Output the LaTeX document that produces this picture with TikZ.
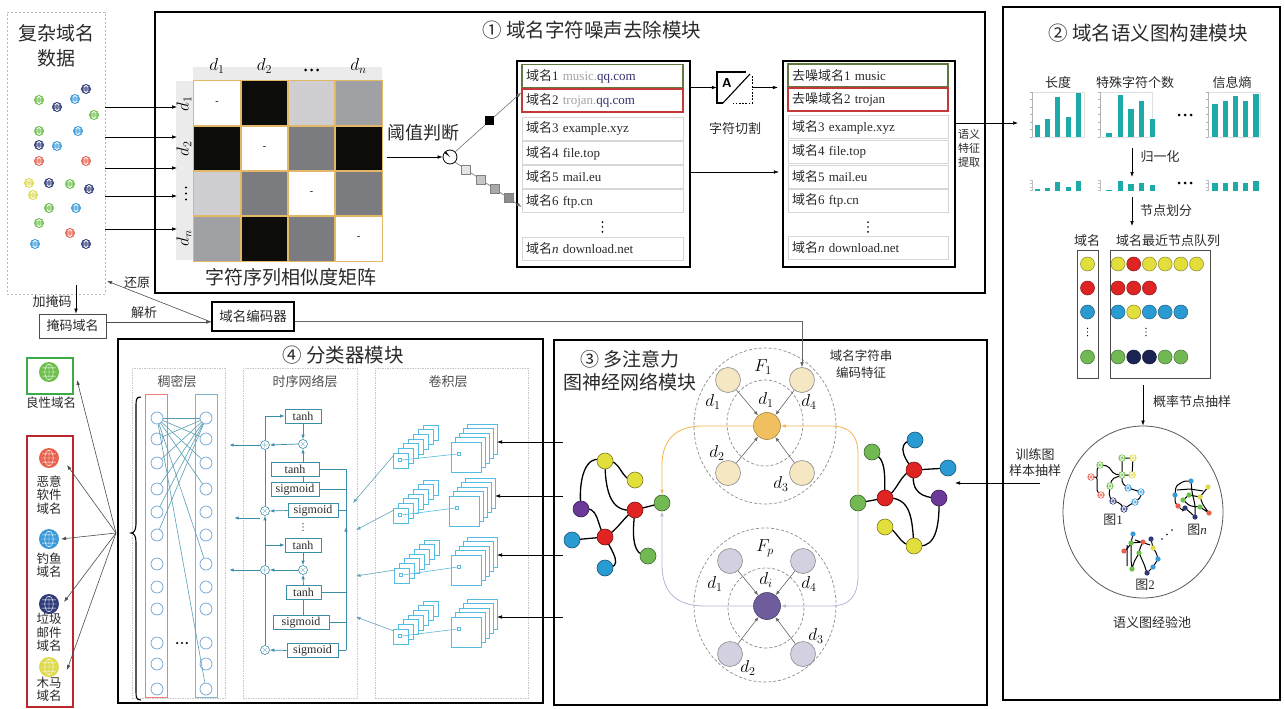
\documentclass[tikz,border=0pt]{standalone}
\usepackage{fontspec}
\setmainfont{Liberation Serif}
\newfontfamily\cjk{Noto Sans CJK SC}
\usetikzlibrary{arrows.meta,shapes.geometric}
\newcommand\zh[1]{{\cjk #1}}

\definecolor{txt}{HTML}{2A2A2A}
\definecolor{soft}{HTML}{505050}
\definecolor{gGreen}{HTML}{6CBF4A}
\definecolor{gNavy}{HTML}{2F3A7A}
\definecolor{gBlue}{HTML}{3A9AD9}
\definecolor{gRed}{HTML}{E8604C}
\definecolor{gYellow}{HTML}{DEDA4C}
\definecolor{nYellow}{HTML}{E2DE3C}
\definecolor{nRed}{HTML}{E02424}
\definecolor{nBlue}{HTML}{2A9AD2}
\definecolor{nGreen}{HTML}{72B954}
\definecolor{nNavy}{HTML}{1C2454}
\definecolor{nPurple}{HTML}{6B3A98}
\definecolor{barT}{HTML}{1FAAAA}
\definecolor{cellGold}{HTML}{E2B868}
\definecolor{gLight}{HTML}{CFCFD1}
\definecolor{gMid}{HTML}{A0A1A4}
\definecolor{gDark}{HTML}{7B7C80}
\definecolor{cBlack}{HTML}{0C0C0A}
\definecolor{band}{HTML}{EBEBEB}
\definecolor{rowline}{HTML}{D6D6D6}
\definecolor{okGreen}{HTML}{5E7A3E}
\definecolor{badRed}{HTML}{C4383A}
\definecolor{urlGray}{HTML}{A3A3A3}
\definecolor{urlNavy}{HTML}{33336E}
\definecolor{lstm}{HTML}{3B8DA8}
\definecolor{dense}{HTML}{6FA3D6}
\definecolor{denseRed}{HTML}{F07C7C}
\definecolor{denseBlue}{HTML}{7FB4CC}
\definecolor{conv}{HTML}{55BDE3}
\definecolor{panel}{HTML}{C8C8C8}
\definecolor{attOrange}{HTML}{F0C060}
\definecolor{attBeige}{HTML}{F6E7C3}
\definecolor{attPurple}{HTML}{6E5C9C}
\definecolor{attLav}{HTML}{D3D0E2}
\definecolor{lineOrange}{HTML}{F2B450}
\definecolor{lineLav}{HTML}{B9B3DA}
\definecolor{goodGreen}{HTML}{3DAA4A}
\definecolor{badBox}{HTML}{B8282C}

\tikzset{
  arr/.style={-{Latex[length=5pt,width=3.6pt]}, line width=0.6pt},
  garr/.style={arr, draw=black!60},
  tarr/.style={-{Latex[length=4.5pt,width=3.4pt]}, line width=0.7pt, draw=lstm},
  carr/.style={-{Latex[length=4.5pt,width=3.4pt]}, line width=0.6pt, draw=lstm!80},
  modbox/.style={draw=black, line width=2.2pt, inner sep=0pt},
  listbox/.style={draw=black, line width=2.2pt, inner sep=0pt, minimum height=206pt},
  listrow/.style={draw=rowline, line width=0.7pt, minimum width=161pt, minimum height=23pt,
    inner sep=0pt, text width=153pt, align=left, font=\fontsize{13}{13}\selectfont, text=txt},
  mcell/.style={draw=cellGold, line width=0.6pt, minimum width=47pt, minimum height=45pt, inner sep=0pt},
  qd/.style={circle, draw=#1!60!black, fill=#1, line width=0.5pt, minimum size=14pt, inner sep=0pt},
  gnode/.style={circle, draw=#1!55!black, fill=#1, line width=0.6pt, minimum size=16pt, inner sep=0pt},
  attn/.style={circle, draw=black!45, fill=#1, line width=0.6pt, minimum size=25pt, inner sep=0pt},
  attc/.style={circle, draw=#1!70!black, fill=#1, line width=0.6pt, minimum size=27pt, inner sep=0pt},
  aarr/.style={-{Latex[length=4.5pt,width=3.4pt]}, line width=0.6pt, draw=black!60},
  dashring/.style={draw=black!45, dash pattern=on 3pt off 2pt, line width=0.7pt},
  panelbox/.style={draw=panel, dash pattern=on 1.5pt off 1pt, line width=0.6pt, inner sep=0pt},
  lbox/.style={draw=lstm, line width=0.7pt, fill=white, inner sep=0pt, minimum height=14pt,
    font=\fontsize{12}{12}\selectfont, text=txt},
  opnode/.style={circle, draw=lstm, line width=0.6pt, fill=white, minimum size=9pt, inner sep=0pt,
    font=\fontsize{8}{8}\selectfont, text=lstm},
  dn/.style={circle, draw=dense, line width=0.7pt, minimum size=12pt, inner sep=0pt},
  smallbox/.style={draw=black!70, line width=0.8pt, inner sep=0pt},
  pics/globe/.style 2 args={code={
    \fill[#1] (0,0) circle (#2);
    \draw[white, line width=0.45pt]
      (0,0) ellipse ({0.42*#2} and {0.78*#2})
      (0,-0.8*#2) -- (0,0.8*#2)
      (-0.8*#2,0) -- (0.8*#2,0)
      (-0.7*#2,-0.42*#2) -- (0.7*#2,-0.42*#2)
      (-0.7*#2,0.42*#2) -- (0.7*#2,0.42*#2);
  }},
  pics/cdot3/.style={code={\fill (-6,0) circle (1.5) (0,0) circle (1.5) (6,0) circle (1.5);}},
  pics/vdot3/.style={code={\fill (0,-6) circle (1.2) (0,0) circle (1.2) (0,6) circle (1.2);}}
}

\begin{document}
\begin{tikzpicture}[x=1pt,y=-1pt]
\useasboundingbox (0,0) rectangle (1285,709);
\fill[white] (0,0) rectangle (1285,709);

% ================= module frames =================
\node[modbox, minimum width=830pt, minimum height=281pt] (M1) at (570,152.5) {};
\node[modbox, minimum width=277pt, minimum height=693pt] (M2) at (1141.5,353.5) {};
\node[modbox, minimum width=433pt, minimum height=365pt] (M3) at (770.5,522.5) {};
\node[modbox, minimum width=425pt, minimum height=364pt] (M4) at (330.5,521) {};

\node[font=\cjk\fontsize{19.5}{19.5}\selectfont, text=txt] (T1) at (592,30) {① 域名字符噪声去除模块};
\node[font=\cjk\fontsize{19.5}{19.5}\selectfont, text=txt] (T2) at (1148,33) {② 域名语义图构建模块};
\node[font=\cjk\fontsize{19}{23}\selectfont, text=txt, align=center] (T3) at (630,371) {③ 多注意力\\图神经网络模块};
\node[font=\cjk\fontsize{19.5}{19.5}\selectfont, text=txt] (T4) at (343,355) {④ 分类器模块};

% ================= raw domain data =================
\node[draw=gray!55, dash pattern=on 2pt off 2pt, line width=0.7pt, minimum width=98pt,
      minimum height=282pt, inner sep=0pt] (data) at (56,153) {};
\node[font=\cjk\fontsize{19}{25}\selectfont, text=txt, align=center] (dataT) at (56,46) {复杂域名\\数据};
\foreach \x/\y/\c in {39/100/gGreen, 86/89/gNavy, 57/107/gNavy, 75/99/gBlue, 94/115/gGreen,
  39/131/gGreen, 78/131/gBlue, 39/145/gNavy, 57/146/gBlue, 39/161/gRed, 86/161/gRed,
  29/183/gYellow, 49/183/gNavy, 70/184/gGreen, 89/189/gNavy, 33/195/gYellow, 49/208/gGreen,
  76/208/gBlue, 39/223/gGreen, 70/233/gRed, 35/244/gBlue, 86/244/gNavy}
  \pic at (\x,\y) {globe={\c}{5}};

% mask / encoder
\node[smallbox, minimum width=67pt, minimum height=24pt, font=\cjk\fontsize{13}{13}\selectfont, text=txt] (mask) at (72.5,326) {掩码域名};
\node[draw=black, line width=1.8pt, inner sep=0pt, minimum width=82pt, minimum height=29pt,
      font=\cjk\fontsize{13.5}{13.5}\selectfont, text=txt] (enc) at (253,316.5) {域名编码器};
\coordinate (maskIn) at (76,285);
\draw[arr] (maskIn) -- (maskIn |- mask.north);
\node[font=\cjk\fontsize{13}{13}\selectfont, text=txt] (lblMask) at (52,302) {加掩码};
\draw[arr, draw=black!70] (mask.east |- 0,322) -- (enc.west |- 0,322);
\node[font=\cjk\fontsize{13}{13}\selectfont, text=txt] (lblParse) at (144,313) {解析};
\coordinate (restore) at (107,281);
\draw[arr, draw=black!70] (enc.west |- 0,322) -- (restore);
\node[font=\cjk\fontsize{13}{13}\selectfont, text=txt] (lblRestore) at (137,283) {还原};

% ================= similarity matrix =================
\fill[band] (193,67) rectangle (382,81);
\fill[band] (176,81) rectangle (193,260);
\foreach \r/\yy in {1/103.5,2/148.5,3/193.5,4/238}{
  \foreach \c/\xx in {1/217,2/264.5,3/311.5,4/358.5}{
    \node[mcell] (c\r\c) at (\xx,\yy) {};
  }
}
\foreach \cc/\col in {11/white,12/cBlack,13/gLight,14/gMid,21/cBlack,22/white,23/gDark,24/cBlack,
  31/gLight,32/gDark,33/white,34/gDark,41/gMid,42/cBlack,43/gDark,44/white}
  \fill[\col] ([shift={(0.3pt,-0.3pt)}]c\cc.north west) rectangle ([shift={(-0.3pt,0.3pt)}]c\cc.south east);
\foreach \cc in {11,12,13,14,21,22,23,24,31,32,33,34,41,42,43,44}
  \draw[cellGold, line width=0.6pt] (c\cc.north west) rectangle (c\cc.south east);
\foreach \cc in {11,22,33,44}
  \node[font=\fontsize{10}{10}\selectfont] at (c\cc) {-};
\node[font=\fontsize{17}{17}\selectfont] (cl1) at (217,66) {$d_1$};
\node[font=\fontsize{17}{17}\selectfont] (cl2) at (264.5,66) {$d_2$};
\pic at (311.5,70) {cdot3};
\node[font=\fontsize{17}{17}\selectfont] (cl4) at (358.5,66) {$d_n$};
\node[rotate=90, font=\fontsize{17}{17}\selectfont] (rl1) at (184,103.5) {$d_1$};
\node[rotate=90, font=\fontsize{17}{17}\selectfont] (rl2) at (184,148.5) {$d_2$};
\pic at (186,193.5) {vdot3};
\node[rotate=90, font=\fontsize{17}{17}\selectfont] (rl4) at (184,238) {$d_n$};
\node[font=\cjk\fontsize{19}{19}\selectfont, text=txt] (matT) at (291,277) {字符序列相似度矩阵};
\foreach \y in {107,137,168,196,229}
  \draw[arr] (data.east |- 0,\y) -- (177,\y);

% threshold
\node[font=\cjk\fontsize{18}{18}\selectfont, text=txt] (thrT) at (423,133) {阈值判断};
\node[draw=black, circle, line width=0.8pt, minimum size=14pt, inner sep=0pt] (thr) at (450,157) {};
\fill (450,157) -- (444.5,153) -- (446,151.5) -- cycle;
\draw[arr] ([xshift=5pt]c24.east |- thr) -- (thr.west);

% ================= domain lists =================
\node[listbox, minimum width=173pt] (LB1) at (603.5,164) {};
\node[listrow, draw=okGreen, line width=1.3pt] (A1) at (602.5,76) {\zh{域名}1 {\color{urlGray}music.}{\color{urlNavy}qq.com}};
\node[listrow, draw=badRed, line width=1.3pt] (A2) at (602.5,100.5) {\zh{域名}2 {\color{urlGray}trojan.}{\color{urlNavy}qq.com}};
\node[listrow] (A3) at (602.5,128.5) {\zh{域名}3 example.xyz};
\node[listrow] (A4) at (602.5,153) {\zh{域名}4 file.top};
\node[listrow] (A5) at (602.5,177) {\zh{域名}5 mail.eu};
\node[listrow] (A6) at (602.5,201) {\zh{域名}6 ftp.cn};
\pic[scale=0.8] at (602.5,227) {vdot3};
\node[listrow] (An) at (602.5,249) {\zh{域名}\textit{n} download.net};

\draw[arr, draw=black!55] (thr.45) -- ([yshift=8pt]A2.west)
  node[pos=0.52, fill=black, minimum size=9pt, inner sep=0pt] (sqA) {};
\draw[arr, draw=black!55] (thr.-45) -- ([yshift=-6pt]A6.west)
  node[pos=0.16, fill=black!10, draw=black!50, line width=0.4pt, minimum size=9pt, inner sep=0pt] (sqB) {}
  node[pos=0.38, fill=black!22, draw=black!50, line width=0.4pt, minimum size=9pt, inner sep=0pt] (sqC) {}
  node[pos=0.59, fill=black!34, draw=black!50, line width=0.4pt, minimum size=9pt, inner sep=0pt] (sqD) {}
  node[pos=0.80, fill=black!45, draw=black!50, line width=0.4pt, minimum size=9pt, inner sep=0pt] (sqE) {};

\node[listbox, minimum width=172pt] (LB2) at (869,164) {};
\node[listrow, minimum width=160pt, text width=152pt, draw=okGreen, line width=1.3pt] (B1) at (868,75.5) {\zh{去噪域名}1 music};
\node[listrow, minimum width=160pt, text width=152pt, draw=badRed, line width=1.3pt] (B2) at (868,99.5) {\zh{去噪域名}2 trojan};
\node[listrow, minimum width=160pt, text width=152pt] (B3) at (868,127) {\zh{域名}3 example.xyz};
\node[listrow, minimum width=160pt, text width=152pt] (B4) at (868,151.5) {\zh{域名}4 file.top};
\node[listrow, minimum width=160pt, text width=152pt] (B5) at (868,176.5) {\zh{域名}5 mail.eu};
\node[listrow, minimum width=160pt, text width=152pt] (B6) at (868,200.5) {\zh{域名}6 ftp.cn};
\pic[scale=0.8] at (868,227) {vdot3};
\node[listrow, minimum width=160pt, text width=152pt] (Bn) at (868,248) {\zh{域名}\textit{n} download.net};

% character cutting icon
\node[minimum width=35pt, minimum height=31pt, inner sep=0pt] (cut) at (734.5,87.5) {};
\draw[line width=1.1pt] (723,103) -- (717,103) -- (717,72) -- (746,72);
\draw[line width=1.1pt] (723,103) -- (750,74);
\draw[line width=0.9pt, dash pattern=on 1.6pt off 1.6pt] (752,76) -- (752,103) -- (733,103);
\node[font=\sffamily\bfseries\fontsize{13}{13}\selectfont] (cutA) at (727,83) {A};
\node[font=\cjk\fontsize{13}{13}\selectfont, text=txt] (cutT) at (735,129) {字符切割};
\draw[arr] (LB1.east |- cut.west) -- (cut.west);
\draw[arr] (cut.east) -- ([xshift=-4pt]LB2.west |- cut.east);
\draw[arr] (LB1.east |- 0,172) -- ([xshift=-3pt]LB2.west |- 0,172);

% semantic feature extraction
\node[font=\cjk\fontsize{11}{14}\selectfont, text=txt, align=center] (semT) at (969,148) {语义\\特征\\提取};
\coordinate (semIn) at (1018,123);
\draw[arr] (LB2.east |- semIn) -- (semIn);

% ================= module 2: semantic graph =================
\node[font=\cjk\fontsize{13}{13}\selectfont, text=txt] (h1) at (1058,83) {长度};
\node[font=\cjk\fontsize{13}{13}\selectfont, text=txt] (h2) at (1135,83) {特殊字符个数};
\node[font=\cjk\fontsize{13}{13}\selectfont, text=txt] (h3) at (1232,83) {信息熵};

% feature charts
\foreach \x in {1032,1100,1208}{
  \draw[black!12, line width=0.5pt] (\x,92) rectangle ++(52,45);
  \draw[black!30, line width=0.5pt] (\x,92) -- (\x,137);
  \foreach \k in {0,...,6} \draw[black!30, line width=0.4pt] (\x,92+\k*7.5) -- ++(-2,0);
}
\foreach \x/\t in {1037.5/125,1047.5/119,1057.5/97,1068.5/117,1078.5/93,
  1109/133,1120.5/95,1131/109,1141.5/101,1152.5/119,
  1215/104,1225.5/101,1235.5/96,1245.5/101,1256/94}
  \fill[barT] (\x-2.7,\t) rectangle (\x+2.7,136.5);
\pic at (1185,115) {cdot3};

% normalised charts
\foreach \x in {1032,1100,1208}{
  \draw[black!25, line width=0.4pt] (\x,180) -- (\x,191);
  \foreach \k in {0,...,3} \draw[black!25, line width=0.4pt] (\x,180+\k*3.5) -- ++(-2,0);
}
\foreach \x/\h in {1037.5/2,1047.5/3,1057.5/9,1068.5/4,1078.5/10,
  1109/1,1120.5/10,1131/7,1141.5/8,1152.5/6,
  1215/8,1225.5/8,1235.5/9,1245.5/8,1256/10}
  \fill[barT] (\x-2.7,191-\h) rectangle (\x+2.7,191);
\pic at (1185,183) {cdot3};

\coordinate (nrmA) at (1132,148);
\coordinate (nrmB) at (1132,177);
\draw[arr] (nrmA) -- (nrmB);
\node[font=\cjk\fontsize{13}{13}\selectfont, text=txt] (nrmT) at (1160,157) {归一化};
\coordinate (divA) at (1132,197);
\coordinate (divB) at (1132,226);
\draw[arr] (divA) -- (divB);
\node[font=\cjk\fontsize{13}{13}\selectfont, text=txt] (divT) at (1166,211) {节点划分};

\node[font=\cjk\fontsize{13}{13}\selectfont, text=txt] (qh1) at (1087,241) {域名};
\node[font=\cjk\fontsize{13}{13}\selectfont, text=txt] (qh2) at (1168,241) {域名最近节点队列};
\node[draw=black!70, line width=0.8pt, minimum width=21pt, minimum height=128pt, inner sep=0pt] (QL) at (1087.5,314) {};
\node[draw=black!70, line width=0.8pt, minimum width=100pt, minimum height=128pt, inner sep=0pt] (QR) at (1160,314) {};
\node[qd=nYellow] (q11) at (1087.5,264) {};
\node[qd=nRed] (q21) at (1087.5,288) {};
\node[qd=nBlue] (q31) at (1087.5,312) {};
\node[qd=nGreen] (q41) at (1087.5,357) {};
\pic[scale=0.6] at (1087.5,332) {vdot3};
\pic[scale=0.6] at (1146,332) {vdot3};
\foreach \i/\c in {1/nYellow,2/nRed,3/nYellow,4/nYellow,5/nYellow,6/nYellow}
  \node[qd=\c] (qa\i) at (1118+\i*15.7-15.7,264) {};
\foreach \i/\c in {1/nRed,2/nRed,3/nRed}
  \node[qd=\c] (qb\i) at (1118+\i*15.7-15.7,288) {};
\foreach \i/\c in {1/nBlue,2/nYellow,3/nBlue,4/nBlue,5/nBlue}
  \node[qd=\c] (qc\i) at (1118+\i*15.7-15.7,312) {};
\foreach \i/\c in {1/nGreen,2/nNavy,3/nNavy,4/nGreen,5/nGreen}
  \node[qd=\c] (qd\i) at (1118+\i*15.7-15.7,357) {};

% experience pool
\node[draw=black!65, line width=0.8pt, ellipse, minimum width=160pt, minimum height=172pt, inner sep=0pt] (pool) at (1143,512) {};
\draw[arr] (pool.north |- 0,385) -- (pool.north);
\node[font=\cjk\fontsize{13}{13}\selectfont, text=txt] (poolArrT) at (1192,402) {概率节点抽样};
\node[font=\cjk\fontsize{13}{13}\selectfont, text=txt] (poolT) at (1152,623) {语义图经验池};
\node[font=\fontsize{13}{13}\selectfont, text=txt] (g1T) at (1113,520) {\zh{图}1};
\node[font=\fontsize{13}{13}\selectfont, text=txt] (g2T) at (1145,585) {\zh{图}2};
\node[font=\fontsize{13}{13}\selectfont, text=txt] (gnT) at (1197,530) {\zh{图}\textit{n}};
\fill (1162,539) circle (0.9) (1167,534.5) circle (0.9) (1172,530) circle (0.9);

% sample graph 1
\draw[line width=1pt, rounded corners=2pt]
  (1091,477) -- (1097,477) -- (1097,492) -- (1101,495)
  (1097,477) -- (1097,468) -- (1100,465) -- (1108,466) -- (1114,474) -- (1122,475) -- (1132,475)
  (1122,458) -- (1133,458) (1122,458) -- (1122,475) (1133,458) -- (1132,475)
  (1122,475) -- (1112,479) -- (1110,486) -- (1109,496) -- (1113,501) -- (1120,503) -- (1124,509)
  (1124,509) -- (1131,504) -- (1135,502) -- (1141,497) -- (1141,492) -- (1128,488) -- (1122,483) -- (1122,475);
\foreach \x/\y/\c in {1100/465/gGreen,1122/458/gGreen,1133/458/gYellow,1091/477/gRed,1122/475/gGreen,
  1132/475/gYellow,1110/486/gGreen,1128/488/gBlue,1141/492/gBlue,1101/495/gRed,1113/501/gNavy,
  1135/502/gBlue,1124/509/gNavy}
  \pic at (\x,\y) {globe={\c}{3.6}};

% sample graph n
\draw[line width=1pt, rounded corners=2.5pt]
  (1175,495) -- (1176,486) -- (1184,481) -- (1191,481) -- (1192,492) -- (1195,505) -- (1195,517)
  (1208,487) -- (1204,492) -- (1200,497) -- (1189,495) -- (1183,500) -- (1190,506) -- (1200,507) -- (1209,513)
  (1175,495) -- (1175,503) -- (1178,506) -- (1183,511) -- (1185,508) -- (1192,514) -- (1195,517)
  (1200,497) -- (1203,505) -- (1209,513)
  (1177,490) -- (1190,489) -- (1203,491);
\foreach \x/\y/\c in {1175/495/gBlue,1208/487/gYellow,1191/481/gBlue,1183/500/gGreen,1189/495/gGreen,
  1200/497/gYellow,1200/507/gGreen,1178/506/gRed,1195/517/gNavy,1209/513/gRed,1185/508/gNavy}
  \fill[\c] (\x,\y) circle (2.6);

% sample graph 2
\draw[line width=1pt, rounded corners=2.5pt]
  (1133,534) -- (1131,543) -- (1131,560) -- (1132,569)
  (1124,551) -- (1128,548) -- (1131,543) -- (1143,542)
  (1143,542) -- (1140,548) -- (1139,553) -- (1134,562) -- (1132,569)
  (1139,553) -- (1144,564) -- (1147,573) -- (1153,567) -- (1158,559) -- (1156,552) -- (1153,548) -- (1151,539)
  (1127,545) -- (1127,566) (1135,540) -- (1150,545);
\foreach \x/\y/\c in {1133/534/gBlue,1151/539/gNavy,1131/543/gGreen,1143/542/gRed,1153/548/gYellow,
  1124/551/gRed,1139/553/gGreen,1158/559/gBlue,1132/569/gGreen,1153/567/gBlue,1147/573/gNavy}
  \fill[\c] (\x,\y) circle (2.6);

% training samples
\node[font=\cjk\fontsize{13}{16}\selectfont, text=txt, align=center] (trainT) at (1035,463) {训练图\\样本抽样};
\coordinate (trainFrom) at (1040,483);
\coordinate (trainTo) at (955,483);
\draw[arr] (trainFrom) -- (trainTo);

% ================= module 3: multi-attention GNN =================
% F1 cluster
\draw[dashring] (765,426) ellipse (71 and 78);
\draw[dashring] (765,423) ellipse (38 and 43);
\node[attc=attOrange] (F1c) at (767,426) {};
\node[attn=attBeige] (F1a) at (728,380) {};
\node[attn=attBeige] (F1b) at (802,380) {};
\node[attn=attBeige] (F1d) at (728,473) {};
\node[attn=attBeige] (F1e) at (802,473) {};
\foreach \n in {F1a,F1b,F1d,F1e} \draw[aarr] (\n) -- (F1c);
\node[font=\fontsize{17}{17}\selectfont] (F1t) at (763,367) {$F_1$};
\node[font=\fontsize{17}{17}\selectfont] (F1l1) at (713,402) {$d_1$};
\node[font=\fontsize{17}{17}\selectfont] (F1l2) at (766,400) {$d_1$};
\node[font=\fontsize{17}{17}\selectfont] (F1l3) at (809,402) {$d_4$};
\node[font=\fontsize{17}{17}\selectfont] (F1l4) at (717,453) {$d_2$};
\node[font=\fontsize{17}{17}\selectfont] (F1l5) at (781,484) {$d_3$};

% Fp cluster
\draw[dashring] (765,605) ellipse (71 and 77);
\draw[dashring] (766,608) ellipse (38 and 40);
\node[attc=attPurple] (FPc) at (767,606) {};
\node[attn=attLav] (FPa) at (730,561) {};
\node[attn=attLav] (FPb) at (803,561) {};
\node[attn=attLav] (FPd) at (730,654) {};
\node[attn=attLav] (FPe) at (803,654) {};
\foreach \n in {FPa,FPb,FPd,FPe} \draw[aarr] (\n) -- (FPc);
\node[font=\fontsize{17}{17}\selectfont] (FPt) at (765,548) {$F_p$};
\node[font=\fontsize{17}{17}\selectfont] (FPl1) at (715,584) {$d_1$};
\node[font=\fontsize{17}{17}\selectfont] (FPl2) at (766,580) {$d_i$};
\node[font=\fontsize{17}{17}\selectfont] (FPl3) at (809,584) {$d_4$};
\node[font=\fontsize{17}{17}\selectfont] (FPl4) at (816,636) {$d_3$};
\node[font=\fontsize{17}{17}\selectfont] (FPl5) at (748,668) {$d_2$};

\node[font=\cjk\fontsize{12.5}{17}\selectfont, text=txt, align=center] (encT) at (861,364) {域名字符串\\编码特征};
\draw[arr, draw=black!60] (enc.east |- 0,321) -| (F1b.north);

% left graph
\coordinate (lY1) at (605,461); \coordinate (lY2) at (635,480); \coordinate (lP) at (581,509);
\coordinate (lR2) at (635,510); \coordinate (lHub) at (662,503); \coordinate (lB1) at (572,540);
\coordinate (lR1) at (605,537); \coordinate (lG2) at (648,556); \coordinate (lB2) at (605,568);
\draw[line width=1.3pt]
  (lY1) .. controls (585,452) and (578,480) .. (lP)
  (lY1) .. controls (622,458) and (620,482) .. (lY2)
  (lY1) .. controls (605,505) and (618,512) .. (lR2)
  (lP) .. controls (600,505) and (596,525) .. (lR1)
  (lB1) -- (lR1)
  (lR1) .. controls (618,530) and (625,515) .. (lR2)
  (lR2) -- (lHub)
  (lR2) .. controls (632,535) and (632,556) .. (lG2)
  (lR1) .. controls (612,552) and (625,568) .. (lB2);
\node[gnode=nYellow] (nY1) at (lY1) {};
\node[gnode=nYellow] (nY2) at (lY2) {};
\node[gnode=nPurple] (nP) at (lP) {};
\node[gnode=nRed] (nR2) at (lR2) {};
\node[gnode=nGreen] (nHubL) at (lHub) {};
\node[gnode=nBlue] (nB1) at (lB1) {};
\node[gnode=nRed] (nR1) at (lR1) {};
\node[gnode=nGreen] (nG2) at (lG2) {};
\node[gnode=nBlue] (nB2) at (lB2) {};

% right graph
\coordinate (rG3) at (872,452); \coordinate (rB3) at (915,440); \coordinate (rR4) at (914,470);
\coordinate (rB4) at (948,468); \coordinate (rHub) at (858,503); \coordinate (rR3) at (885,498);
\coordinate (rP2) at (939,498); \coordinate (rY3) at (885,527); \coordinate (rY4) at (914,546);
\draw[line width=1.3pt]
  (rG3) .. controls (888,458) and (884,480) .. (rR3)
  (rB3) .. controls (898,440) and (900,455) .. (rR4)
  (rR4) -- (rB4)
  (rR4) .. controls (910,492) and (922,498) .. (rP2)
  (rR4) .. controls (900,472) and (898,492) .. (rR3)
  (rHub) -- (rR3)
  (rR3) .. controls (912,496) and (912,520) .. (rY4)
  (rY3) .. controls (898,528) and (898,546) .. (rY4)
  (rP2) .. controls (940,540) and (930,548) .. (rY4);
\node[gnode=nGreen] (mG3) at (rG3) {};
\node[gnode=nBlue] (mB3) at (rB3) {};
\node[gnode=nRed] (mR4) at (rR4) {};
\node[gnode=nBlue] (mB4) at (rB4) {};
\node[gnode=nGreen] (nHubR) at (rHub) {};
\node[gnode=nRed] (mR3) at (rR3) {};
\node[gnode=nPurple] (mP2) at (rP2) {};
\node[gnode=nYellow] (mY3) at (rY3) {};
\node[gnode=nYellow] (mY4) at (rY4) {};

% attention flows
\draw[-{Latex[length=5pt,width=3.6pt]}, draw=lineOrange, line width=0.8pt]
  (nHubR.north) -- (858,455) .. controls (858,435) and (850,426) .. (830,426) -- (F1c.east);
\draw[-{Latex[length=5pt,width=3.6pt]}, draw=lineOrange, line width=0.8pt]
  (F1c.west) -- (702,426) .. controls (676,426) and (662,440) .. (662,465) -- (nHubL.north);
\draw[-{Latex[length=5pt,width=3.6pt]}, draw=lineLav, line width=0.8pt]
  (nHubR.south) -- (858,575) .. controls (858,596) and (850,606) .. (830,606) -- (FPc.east);
\draw[-{Latex[length=5pt,width=3.6pt]}, draw=lineLav, line width=0.8pt]
  (FPc.west) -- (705,606) .. controls (676,606) and (662,592) .. (662,565) -- (nHubL.south);

% ================= module 4: classifier =================
\node[panelbox, minimum width=93pt, minimum height=330pt] (PD) at (178.5,533) {};
\node[panelbox, minimum width=114pt, minimum height=330pt] (PL) at (300,533) {};
\node[panelbox, minimum width=153pt, minimum height=330pt] (PC) at (451.5,533) {};
\node[font=\cjk\fontsize{13}{13}\selectfont, text=soft] (PDt) at (177,382) {稠密层};
\node[font=\cjk\fontsize{13}{13}\selectfont, text=soft] (PLt) at (305,382) {时序网络层};
\node[font=\cjk\fontsize{13}{13}\selectfont, text=soft] (PCt) at (448,382) {卷积层};

% dense layer
\draw[denseRed, line width=0.8pt] (145,394) rectangle (167,697);
\draw[denseBlue, line width=0.8pt] (195,394) rectangle (217,697);
\foreach \i/\y in {1/418,2/439,3/463,4/489,5/512,6/535,7/564,8/587,9/609,10/643,11/664,12/689}{
  \node[dn] (dl\i) at (157,\y) {};
  \node[dn] (dr\i) at (206,\y) {};
}
\foreach \j in {1,2,3,4,7,12} \draw[lstm!85, line width=0.6pt] (dl1) -- (dr\j);
\foreach \j in {2,3,4,5,6} \draw[lstm!85, line width=0.6pt] (dr1) -- (dl\j);
\pic[scale=0.8] at (182,643) {cdot3};
\draw[line width=1.1pt] (141,397) .. controls (136,397) and (136,400) .. (136,406) -- (136,524)
  .. controls (136,530) and (134,533) .. (131,533) .. controls (134,533) and (136,536) .. (136,542)
  -- (136,691) .. controls (136,697) and (136,700) .. (141,700);

% LSTM layer
\node[lbox, minimum width=36pt] (ta1) at (303,416) {tanh};
\node[lbox, minimum width=48pt] (ta2) at (295,469) {tanh};
\node[lbox, minimum width=48pt] (sg1) at (295,489.5) {sigmoid};
\node[lbox, minimum width=50pt] (sg2) at (313,510.5) {sigmoid};
\node[lbox, minimum width=36pt] (ta3) at (303,545) {tanh};
\node[lbox, minimum width=35pt] (ta4) at (303.5,592.5) {tanh};
\node[lbox, minimum width=56pt] (sg3) at (301,622.5) {sigmoid};
\node[lbox, minimum width=51pt] (sg4) at (312.5,650.5) {sigmoid};
\node[opnode] (m1) at (303,444) {$\times$};
\node[opnode] (p1) at (265,445) {$+$};
\node[opnode] (m2) at (265,511) {$\times$};
\node[opnode] (m3) at (303,570) {$\times$};
\node[opnode] (p2) at (265,570) {$+$};
\node[opnode] (m4) at (265,650) {$\times$};
\pic[scale=0.55] at (303,527) {vdot3};
\draw[lstm, line width=0.7pt] (p1.north) -- (p1.north |- ta1.west) -- ([xshift=-6pt]ta1.west);
\draw[tarr] (p1.north |- ta1.west) -- (ta1.west);
\draw[lstm, line width=0.7pt] (p1.south) -- (m2.north);
\draw[tarr] (p2.north) -- (m2.south);
\draw[tarr] (p2.north |- ta3.west) -- (ta3.west);
\draw[lstm, line width=0.7pt] (p2.south) -- (m4.north);
\draw[tarr] (ta1.south) -- (m1.north);
\draw[tarr] (ta2.north -| m1) -- (m1.south);
\draw[lstm, line width=0.7pt] (ta2.south -| m1) -- (sg1.north -| m1);
\draw[tarr] (m1.west) -- (p1.east);
\draw[tarr] (p1.west) -- ++(-31,0);
\draw[tarr] (sg2.west) -- (m2.east);
\draw[tarr] ([yshift=-7pt]m2.west) -- ++(-26,0);
\draw[tarr] (ta3.south) -- (m3.north);
\draw[tarr] (ta4.north) -- (m3.south);
\draw[lstm, line width=0.7pt] (ta4.south) -- (sg3.north -| ta4);
\draw[tarr] (m3.west) -- (p2.east);
\draw[tarr] (p2.west) -- ++(-31,0);
\draw[tarr] (sg4.west) -- (m4.east);
\draw[lstm, line width=0.7pt] (346,469) -- (346,650);
\foreach \n in {ta2,sg1,sg2,ta4,sg3,sg4} \draw[lstm, line width=0.7pt] (\n.east) -- (\n.east -| 346,0);
\draw[tarr] (346,560) -- (346,527);

% convolution layer
\foreach \g/\sx/\sy/\bx/\by in {1/393/453/451/442, 2/393/508/449/496, 3/394/568/451/555, 4/393/629/451/617}{
  \foreach \k in {6,5,...,0}
    \draw[conv, line width=0.6pt, fill=white] (\sx+\k*5,\sy-\k*4.7) rectangle ++(15,15);
  \foreach \k in {4,3,...,0}
    \draw[conv, line width=0.6pt, fill=white] (\bx+\k*4,\by-\k*4.5) rectangle ++(30,30);
  \draw[conv, line width=0.5pt] (\sx+5.5,\sy+5.5) rectangle ++(3,3);
  \draw[conv, line width=0.5pt] (\bx+6.5,\by+10.5) rectangle ++(3,3);
  \draw[conv, line width=0.6pt] (\sx+8.5,\sy+7) -- (\bx+6.5,\by+12);
  \coordinate (cs\g) at (\sx+1,\sy+2);
  \coordinate (cb\g) at (\bx+46,\by);
}
\draw[carr] (cs1) -- (353,503);
\draw[carr] (cs2) -- (356,530);
\draw[carr] (cs3) -- (356,576);
\draw[carr] (cs4) -- (356,617);
\foreach \g in {1,...,4} \draw[arr] (563,0 |- cb\g) -- (cb\g);

% classifier outputs
\coordinate (clsOut) at (116,533);
\node[draw=goodGreen, line width=2pt, minimum width=46pt, minimum height=36pt, inner sep=0pt] (good) at (50,376) {};
\pic at (49,372) {globe={gGreen}{10}};
\node[font=\cjk\fontsize{12.5}{12.5}\selectfont, text=txt] (goodT) at (51,403) {良性域名};
\node[draw=badBox, line width=2pt, minimum width=46pt, minimum height=271pt, inner sep=0pt] (bad) at (50,571.5) {};
\pic at (49,458) {globe={gRed}{10}};
\pic at (49,539) {globe={gBlue}{10}};
\pic at (49,604) {globe={gNavy}{10}};
\pic at (49,667) {globe={gYellow}{10}};
\node[font=\cjk\fontsize{12.5}{13.5}\selectfont, text=txt, align=center] (malT) at (49,495) {恶意\\软件\\域名};
\node[font=\cjk\fontsize{12.5}{13.5}\selectfont, text=txt, align=center] (phT) at (49,565) {钓鱼\\域名};
\node[font=\cjk\fontsize{12.5}{13.5}\selectfont, text=txt, align=center] (spT) at (49,632.5) {垃圾\\邮件\\域名};
\node[font=\cjk\fontsize{12.5}{13.5}\selectfont, text=txt, align=center] (trT) at (49,689) {木马\\域名};
\coordinate (tGood) at (77,380);
\coordinate (tMal) at (67,465);
\coordinate (tPh) at (61,539);
\coordinate (tSp) at (64,602);
\coordinate (tTr) at (67,670);
\foreach \t in {tGood,tMal,tPh,tSp,tTr} \draw[arr, draw=black!70] (clsOut) -- (\t);

\end{tikzpicture}
\end{document}
